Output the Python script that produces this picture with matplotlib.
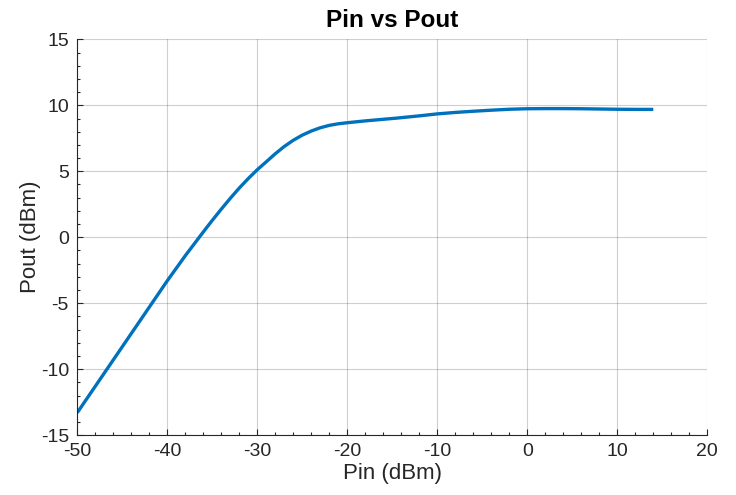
import matplotlib
matplotlib.use('Agg')
import matplotlib.pyplot as plt
from matplotlib.ticker import MultipleLocator

plt.rcParams['font.family'] = ['Liberation Sans', 'DejaVu Sans']
plt.rcParams['axes.unicode_minus'] = False

# values
pin_dbm = [-50, -47, -45, -42, -40, -38, -36, -35, -34, -33, -32, -31, -30, -29, -28, -27, -26,
           -25, -24, -23, -22, -21, -20, -18, -16, -14.5, -12, -10, -8, -6, -4, -2,
           0, 2, 4, 6, 8, 10, 12, 14]
pout_dbm = [-13.3, -10.3, -8.3, -5.3, -3.3, -1.4, 0.4, 1.28, 2.13, 2.95, 3.73, 4.45, 5.12, 5.72, 6.33, 6.88, 7.35,
            7.74, 8.05, 8.3, 8.48, 8.6, 8.68, 8.82, 8.94, 9.03, 9.2, 9.35, 9.46, 9.55, 9.63, 9.7,
            9.74, 9.75, 9.75, 9.74, 9.72, 9.7, 9.69, 9.69]

axis_col = '#262626'

fig = plt.figure(figsize=(7.36, 4.95), dpi=100)
ax = fig.add_axes([0.105, 0.121, 0.856, 0.7995])

ax.plot(pin_dbm, pout_dbm, color='#0072BD', linewidth=2.4, solid_capstyle='butt')

ax.set_xlim(-50, 20)
ax.set_ylim(-15, 15)
ax.xaxis.set_major_locator(MultipleLocator(10))
ax.yaxis.set_major_locator(MultipleLocator(5))
ax.xaxis.set_minor_locator(MultipleLocator(2))
ax.yaxis.set_minor_locator(MultipleLocator(1))

ax.grid(True, which='major', color='#262626', alpha=0.22, linewidth=0.8)
ax.set_axisbelow(True)

for side in ['top', 'right']:
    ax.spines[side].set_visible(False)
for side in ['left', 'bottom']:
    ax.spines[side].set_color(axis_col)
    ax.spines[side].set_linewidth(0.8)

ax.tick_params(which='both', direction='in', colors=axis_col, labelsize=14, width=0.8)
ax.tick_params(which='major', length=4, pad=6)
ax.tick_params(which='minor', length=2.2)

ax.set_title('Pin vs Pout', fontsize=17.5, fontweight='bold', color='black', pad=9)
ax.set_xlabel('Pin (dBm)', fontsize=16, color=axis_col, labelpad=2)
ax.set_ylabel('Pout (dBm)', fontsize=16, color=axis_col, labelpad=0)

fig.savefig('out.png', dpi=100)
